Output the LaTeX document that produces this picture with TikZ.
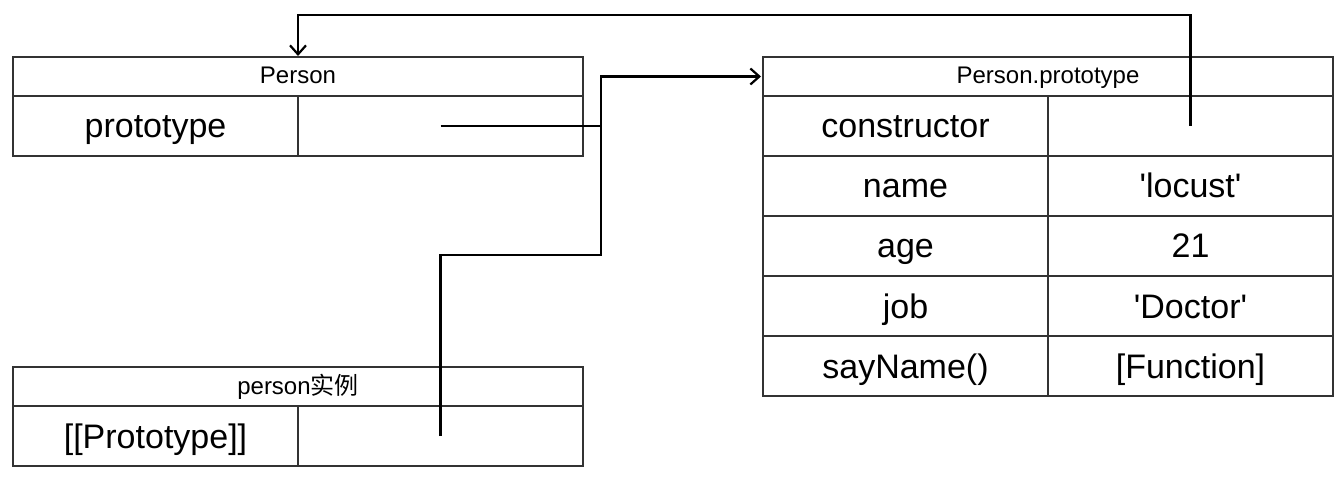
\documentclass[tikz,border=0pt]{standalone}
\usepackage{fontspec}
\setmainfont{Liberation Sans}
\newfontfamily\cjk{Noto Sans CJK SC}
\usetikzlibrary{arrows.meta}
\definecolor{gridline}{HTML}{333333}
\newcommand{\sq}{\textquotesingle}
\tikzset{
  cell/.style={draw=gridline, line width=1.8pt, rectangle, inner sep=0pt, outer sep=0pt,
               minimum width=285pt, minimum height=60pt, font=\fontsize{34}{40}\selectfont,
               text height=29pt, text depth=5pt},
  headcell/.style={cell, minimum width=570pt, minimum height=39pt, font=\fontsize{24}{28}\selectfont,
               text height=18pt, text depth=3pt},
  conn/.style={draw=black, line width=2.4pt, line join=miter},
  tip/.style={-{Straight Barb[length=9pt, width=16pt, line width=2.2pt]}}
}
\begin{document}
\begin{tikzpicture}[x=1pt, y=-1pt]
  \useasboundingbox (0,0) rectangle (1340,478);

  % Person
  \node[headcell] (phead) at (298,76.5) {Person};
  \node[cell] (pkey) at (155.5,126) {prototype};
  \node[cell] (pval) at (440.5,126) {};

  % Person.prototype
  \node[headcell] (pphead) at (1048,76.5) {Person.prototype};
  \node[cell] (ctorkey) at (905.5,126) {constructor};
  \node[cell] (ctorval) at (1190.5,126) {};
  \node[cell] (namekey) at (905.5,186) {name};
  \node[cell] (nameval) at (1190.5,186) {\sq locust\sq};
  \node[cell] (agekey) at (905.5,246) {age};
  \node[cell] (ageval) at (1190.5,246) {21};
  \node[cell] (jobkey) at (905.5,306) {job};
  \node[cell] (jobval) at (1190.5,306) {\sq Doctor\sq};
  \node[cell] (saykey) at (905.5,366) {sayName()};
  \node[cell] (sayval) at (1190.5,366) {[Function]};

  % person instance
  \node[headcell] (ihead) at (298,386.5) {person{\cjk 实例}};
  \node[cell] (ikey) at (155.5,436) {[[Prototype]]};
  \node[cell] (ival) at (440.5,436) {};

  % routing points
  \coordinate (trunk) at (601,0);
  \coordinate (ledge) at (0,255);
  \coordinate (topline) at (0,15);

  % Person.prototype -> Person.prototype table
  \draw[conn, tip, shorten >=2pt] (pval.center) -- (trunk |- pval.center) |- (pphead.west);
  % [[Prototype]] -> Person.prototype table
  \draw[conn] (ival.center) -- (ival.center |- ledge) -- (trunk |- ledge) -- (trunk |- pval.center);
  % constructor -> Person
  \draw[conn, tip, shorten >=1pt] (ctorval.center) -- (ctorval.center |- topline) -| (phead.north);
\end{tikzpicture}
\end{document}
